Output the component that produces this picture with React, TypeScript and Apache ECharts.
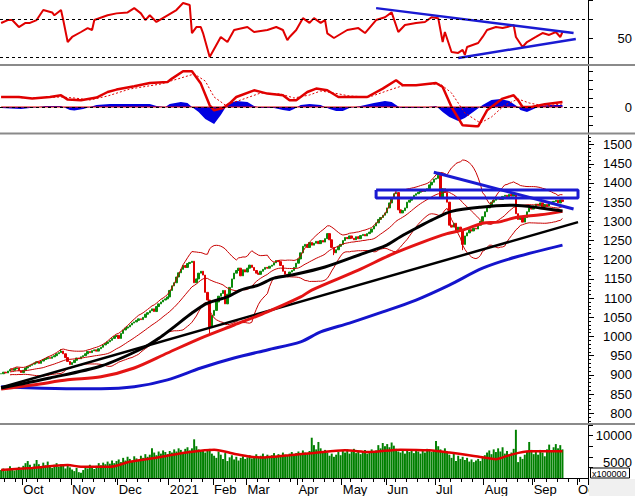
import React, { useEffect, useRef } from 'react';
import * as echarts from 'echarts';

// ---------- calendar ----------
const START_DATE = [2020, 8, 17]; // 17 Sep 2020 (month 0-based)
const TOTAL_SLOTS = 265; // trading days shown on the axis (incl. empty future)
const HOLIDAYS = ['2021-01-01', '2021-02-10', '2021-02-11', '2021-02-12', '2021-02-15', '2021-02-16',
  '2021-04-21', '2021-04-30', '2021-05-03', '2021-09-02', '2021-09-03'];
const MONTH_NAMES = ['Jan', 'Feb', 'Mar', 'Apr', 'May', 'Jun', 'Jul', 'Aug', 'Sep', 'Oct', 'Nov', 'Dec'];

// ---------- daily closes (index level) ----------
const closeSep20 = [903, 907, 905, 910, 914, 912, 916, 918, 911, 906];
const closeOct20 = [912, 918, 922, 925, 928, 931, 934, 930, 936, 940, 942, 945, 943, 947, 950, 955, 958, 962, 955, 945, 935, 927];
const closeNov20 = [932, 938, 944, 942, 947, 950, 955, 961, 958, 963, 965, 962, 968, 972, 978, 982, 986, 990, 995, 1000, 1003];
const closeDec20 = [995, 1008, 1017, 1022, 1025, 1030, 1035, 1038, 1042, 1046, 1044, 1050, 1058, 1062, 1067, 1072, 1065, 1078, 1085, 1090, 1095, 1098, 1103];
const closeJan21 = [1120, 1132, 1140, 1155, 1166, 1175, 1185, 1180, 1190, 1193, 1196, 1140, 1150, 1165, 1170, 1160, 1115, 1095, 1025, 1055];
const closeFeb21 = [1068, 1090, 1105, 1112, 1120, 1085, 1110, 1128, 1150, 1165, 1172, 1178, 1158, 1174, 1168];
const closeMar21 = [1178, 1186, 1180, 1172, 1165, 1162, 1170, 1175, 1180, 1178, 1183, 1186, 1192, 1198, 1195, 1185, 1170, 1162, 1160, 1168, 1172, 1180, 1191];
const closeApr21 = [1202, 1218, 1235, 1240, 1232, 1245, 1238, 1243, 1248, 1242, 1250, 1246, 1255, 1268, 1252, 1232, 1218, 1226, 1235, 1240];
const closeMay21 = [1250, 1258, 1255, 1262, 1256, 1252, 1260, 1255, 1263, 1266, 1262, 1268, 1272, 1280, 1288, 1296, 1305, 1310, 1316, 1322];
const closeJun21 = [1335, 1348, 1360, 1372, 1375, 1330, 1322, 1328, 1335, 1350, 1355, 1362, 1368, 1372, 1376, 1380, 1378, 1382, 1385, 1395, 1402, 1410];
const closeJul21 = [1412, 1420, 1362, 1385, 1375, 1350, 1290, 1285, 1295, 1272, 1285, 1278, 1240, 1262, 1270, 1278, 1275, 1282, 1280, 1290, 1300, 1312];
const closeAug21 = [1325, 1335, 1342, 1350, 1355, 1358, 1362, 1357, 1365, 1368, 1364, 1370, 1366, 1372, 1320, 1305, 1312, 1298, 1310, 1325, 1335, 1332];
const closeSep21 = [1340, 1345, 1342, 1348, 1338, 1344, 1340, 1346, 1350, 1352, 1355, 1348, 1356, 1352];

// notable wick extremes [dayIndex, price]
const wickHighs = [[27, 967], [197, 1428], [232, 1372]];
const wickLows = [[94, 1004], [208, 1225], [150, 1212]];

// ---------- daily volume (x100000) ----------
const volSep20 = [3500, 3800, 3300, 3600, 4200, 3900, 3400, 3700, 4100, 3600];
const volOct20 = [4300, 4800, 5200, 4500, 4000, 4700, 5400, 4600, 4200, 4900, 4400, 5100, 4300, 3900, 4500, 4800, 4100, 4600, 4300, 3800, 4400, 4000];
const volNov20 = [3600, 3300, 3900, 3100, 3000, 3500, 4200, 3800, 4500, 4100, 3700, 4300, 4800, 4400, 4900, 4600, 5100, 4700, 5300, 4800, 5200];
const volDec20 = [5500, 5000, 5800, 5300, 6000, 5600, 5200, 6100, 5700, 5400, 6200, 5800, 6500, 6000, 6400, 7600, 6800, 6300, 7000, 6600, 7200, 6900, 6500];
const volJan21 = [7100, 6800, 7400, 7000, 7600, 7300, 6900, 7500, 7800, 7200, 7600, 9300, 8000, 7400, 7000, 7300, 6800, 7100, 7500, 6600];
const volFeb21 = [6200, 5800, 7000, 6400, 5600, 6700, 5200, 5900, 6300, 5500, 6000, 5300, 5800, 6100, 5600];
const volMar21 = [5900, 6300, 5700, 6100, 6500, 5800, 6200, 6600, 6000, 6400, 5900, 6300, 6700, 6100, 6500, 6000, 6800, 6400, 6200, 6600, 6900, 6300, 6700];
const volApr21 = [7000, 6600, 7200, 6800, 6500, 7100, 9600, 8200, 7400, 8800, 7600, 7000, 7300, 6800, 6200, 6600, 6000, 6400, 6900, 6300];
const volMay21 = [7200, 6800, 7400, 6600, 7000, 7500, 6700, 7100, 6500, 6900, 7300, 6600, 7000, 7400, 6800, 7200, 8200, 7600, 8600, 8000];
const volJun21 = [8400, 7800, 8700, 8100, 7500, 7000, 6800, 7200, 6600, 7100, 6900, 7400, 6700, 7300, 7000, 6600, 7200, 6800, 7500, 7100, 6900, 7300];
const volJul21 = [9000, 8000, 7400, 6900, 7600, 7000, 6400, 5800, 6600, 5200, 6200, 5600, 6000, 5400, 5800, 5100, 5500, 5000, 5300, 5600, 5200, 5900];
const volAug21 = [6300, 6800, 7200, 6500, 7400, 6900, 7600, 7000, 7800, 6600, 7100, 6400, 6800, 7500, 11100, 5000, 6000, 5600, 6400, 6900, 8800, 7300];
const volSep21 = [6500, 7000, 6400, 7300, 6800, 6100, 7400, 8300, 7100, 7800, 8400, 7600, 8200, 7400];

// ---------- moving averages [dayIndex, value] ----------
const ma50Points = [[0, 866], [22, 892], [45, 923], [64, 970], [72, 999], [78, 1025], [86, 1061], [93, 1087], [102, 1103], [108, 1121], [116, 1134], [123, 1152], [131, 1160], [146, 1181], [164, 1218], [173, 1236], [180, 1260], [187, 1282], [194, 1303], [203, 1326], [216, 1337], [231, 1342], [243, 1335], [253, 1327]];
const ma100Points = [[0, 863], [15, 874], [30, 887], [45, 895], [60, 918], [75, 957], [90, 996], [105, 1030], [120, 1064], [135, 1103], [140, 1121], [161, 1173], [176, 1214], [190, 1246], [201, 1268], [209, 1279], [217, 1295], [224, 1298], [232, 1310], [243, 1317], [253, 1326]];
const ma200Points = [[0, 869], [15, 866], [35, 864], [45, 864], [60, 869], [75, 887], [90, 918], [105, 944], [120, 965], [135, 986], [144, 1012], [157, 1035], [172, 1064], [187, 1095], [202, 1134], [217, 1178], [232, 1207], [253, 1238]];
const longTrendPoints = [[0, 867], [260, 1298]];
const topTrendPoints = [[195, 1428], [258, 1332]];
const resistanceBox = [[169, 1382], [260, 1382], [260, 1361], [169, 1361], [169, 1382]];

// ---------- RSI ----------
const rsiPoints = [[0, 65.9], [3, 69], [5, 69], [8, 61.7], [11, 66], [13, 66], [16, 69], [19, 79.5], [23, 77], [24, 74], [27, 79.5], [28, 69], [30, 46], [32, 51.3], [36, 56.5], [39, 60.6], [41, 58.6], [42, 69], [48, 74], [52, 76], [57, 77], [60, 81.5], [63, 76], [65, 69], [67, 74], [70, 67], [75, 74], [79, 79.5], [82, 86.8], [85, 84.7], [86, 55.4], [88, 61.7], [90, 61.7], [91, 55.4], [94, 30.4], [99, 51.3], [102, 46], [105, 58.6], [111, 61.7], [114, 56.5], [120, 58.6], [124, 61.7], [127, 58.6], [129, 48], [130, 51.3], [133, 58.6], [136, 71], [139, 66], [141, 71], [144, 66], [146, 69], [147, 55], [150, 50.2], [156, 58.6], [161, 60.6], [164, 55.4], [169, 69], [173, 72], [176, 77], [179, 56.5], [182, 63.8], [187, 66], [191, 67], [194, 72], [197, 71], [199, 46], [200, 56.5], [203, 35.6], [206, 34.6], [208, 37.8], [209, 32.5], [210, 40.8], [215, 45], [217, 51.3], [219, 58.6], [223, 61.7], [226, 60.6], [228, 61.7], [231, 63.8], [232, 51.3], [235, 40.8], [237, 46], [241, 51.3], [244, 55.4], [247, 53.4], [250, 56.5], [252, 51.3], [253, 56.5]];
const rsiUpperTrend = [[169, 81.5], [258, 55.4]];
const rsiLowerTrend = [[206, 29.3], [259, 49.2]];
const rsiGuides = [70, 30];

// ---------- MACD ----------
const macdPoints = [[0, 10], [8, 10], [14, 8.4], [22, 10], [27, 11.7], [30, 7.4], [36, 6.7], [43, 9.4], [48, 15], [52, 17.4], [60, 20.7], [67, 24], [75, 25], [77, 28.4], [82, 35.7], [86, 35.7], [90, 23.4], [94, 1.7], [96, -3.3], [100, -1], [103, 3.7], [106, 10], [114, 16.7], [120, 13.4], [127, 11.7], [130, 6.7], [133, 6.7], [138, 15], [142, 18.4], [147, 16.7], [152, 10], [161, 10], [165, 10], [172, 18.4], [178, 26.7], [181, 21.7], [187, 21.7], [196, 24], [199, 20], [203, 0], [208, -18.3], [214, -19.3], [215, -19.3], [219, -3.3], [226, 8.4], [231, 11.7], [233, 6.7], [235, 0], [239, 0], [245, 2.7], [253, 5]];
const signalPoints = [[0, 10], [14, 9], [27, 10], [33, 9], [40, 7], [48, 11], [58, 18], [72, 23], [81, 29], [87, 33], [92, 26], [96, 10], [101, 2], [108, 7], [117, 14], [126, 13], [132, 9], [139, 12], [144, 16], [150, 14], [157, 11], [166, 10], [175, 17], [182, 22], [198, 23], [203, 14], [209, -6], [216, -16], [221, -10], [227, 2], [233, 8], [238, 4], [245, 1], [253, 3]];
const histPoints = [[0, -1], [9, -2], [17, 0], [20, 1], [27, 1], [29, -1], [31, -3], [33, -3.5], [37, -2], [40, 0], [43, 2], [49, 3], [58, 3], [67, 3], [70, 1], [74, 0], [76, 3], [81, 5], [84, 4], [86, 0], [89, -5], [92, -12], [96, -17], [99, -8], [101, -1], [103, 4], [106, 6], [111, 5], [114, 1], [117, -1], [123, -1], [127, -3], [130, -4], [132, -2], [135, 2], [139, 3], [144, 2], [148, -2], [151, -4], [154, -4], [157, -1], [162, 1], [168, 4], [173, 6], [176, 5], [180, -1], [189, -1], [196, 1], [199, -5], [202, -10], [206, -14], [209, -11], [214, -3], [217, 2], [221, 7], [225, 8], [229, 6], [233, 0], [234, -3], [237, -5], [240, -2], [243, 1], [247, 2], [253, 2]];
const macdZeroSpan = [[0, 0], [253, 0]];

// ---------- volume average ----------
const volMaPoints = [[0, 3518], [14, 3900], [30, 4450], [36, 4130], [49, 4130], [58, 5060], [72, 5980], [85, 6900], [96, 7350], [106, 6480], [117, 5870], [130, 6300], [141, 6720], [155, 7220], [166, 6900], [180, 7350], [193, 7220], [202, 6800], [216, 5980], [223, 5550], [229, 6300], [238, 7040], [253, 7040]];

// ---------- axis tick labels ----------
const priceTicks = [800, 850, 900, 950, 1000, 1050, 1100, 1150, 1200, 1250, 1300, 1350, 1400, 1450, 1500];
const rsiLabels = [50];
const rsiTicks = [30, 50, 70, 90];
const macdLabels = [0];
const macdTicks = [-18, -9, 0, 9, 18, 27, 36];
const volumeLabels = [5000, 10000];
const volumeTicks = [4000, 6000, 8000, 10000, 12000];
const volumeUnit = 'x100000';

const FONT = 'Liberation Sans, Arial, sans-serif';

function buildDates() {
  const out: string[] = [];
  let t = Date.UTC(START_DATE[0], START_DATE[1], START_DATE[2]);
  while (out.length < TOTAL_SLOTS) {
    const d = new Date(t);
    const dow = d.getUTCDay();
    const s = d.toISOString().slice(0, 10);
    if (dow !== 0 && dow !== 6 && HOLIDAYS.indexOf(s) < 0) out.push(s);
    t += 86400000;
  }
  return out;
}

function buildOption() {
  const dates = buildDates();
  const closes = [...closeSep20, ...closeOct20, ...closeNov20, ...closeDec20, ...closeJan21, ...closeFeb21,
    ...closeMar21, ...closeApr21, ...closeMay21, ...closeJun21, ...closeJul21, ...closeAug21, ...closeSep21];
  const volumes = [...volSep20, ...volOct20, ...volNov20, ...volDec20, ...volJan21, ...volFeb21,
    ...volMar21, ...volApr21, ...volMay21, ...volJun21, ...volJul21, ...volAug21, ...volSep21];

  const hiMap = new Map(wickHighs.map((p) => [p[0], p[1]]));
  const loMap = new Map(wickLows.map((p) => [p[0], p[1]]));
  const candles = closes.map((c, i) => {
    const o = i === 0 ? c : closes[i - 1];
    const lo = Math.min(o, c, loMap.has(i) ? (loMap.get(i) as number) : Infinity);
    const hi = Math.max(o, c, hiMap.has(i) ? (hiMap.get(i) as number) : -Infinity);
    return [o, c, lo, hi];
  });

  // Bollinger bands (20, 2) from closes
  const bbUp: any[] = [], bbMid: any[] = [], bbLo: any[] = [];
  closes.forEach((_, i) => {
    if (i < 4) { bbUp.push('-'); bbMid.push('-'); bbLo.push('-'); return; }
    const w = closes.slice(Math.max(0, i - 19), i + 1);
    const m = w.reduce((a, b) => a + b, 0) / w.length;
    const sd = Math.sqrt(w.reduce((a, b) => a + (b - m) * (b - m), 0) / w.length);
    bbUp.push(+(m + 2 * sd).toFixed(1));
    bbMid.push(+m.toFixed(1));
    bbLo.push(+(m - 2 * sd).toFixed(1));
  });

  const monthStarts = new Set<number>();
  const weekStarts = new Set<number>();
  dates.forEach((d, i) => {
    if (i === 0) return;
    const prev = dates[i - 1];
    if (d.slice(5, 7) !== prev.slice(5, 7)) monthStarts.add(i);
    const a = new Date(d + 'T00:00:00Z').getUTCDay();
    const b = new Date(prev + 'T00:00:00Z').getUTCDay();
    if (a < b) weekStarts.add(i);
  });

  const hiddenX = (g: number) => ({ type: 'category', gridIndex: g, data: dates, boundaryGap: true, show: false });
  const axisBlack = { show: true, lineStyle: { color: '#000', width: 1 } };
  const rightLabel = {
    color: '#000', fontSize: 13, fontFamily: FONT, align: 'right', margin: 44,
    formatter: (v: number) => String(v),
  };

  const line = (data: any, xi: number, yi: number, color: string, width: number, extra: any = {}) => ({
    type: 'line', data, xAxisIndex: xi, yAxisIndex: yi, symbol: 'none', silent: true,
    lineStyle: { color, width, ...(extra.lineStyle || {}) },
    ...Object.fromEntries(Object.entries(extra).filter(([k]) => k !== 'lineStyle')),
  });

  return {
    animation: false,
    backgroundColor: '#fff',
    textStyle: { fontFamily: FONT },
    grid: [
      { left: 0, right: 47, top: 0, height: 64 },
      { left: 0, right: 47, top: 66, height: 67 },
      { left: 0, right: 47, top: 135, height: 289 },
      { left: 0, right: 47, top: 425, height: 53 },
    ],
    xAxis: [
      hiddenX(0), hiddenX(1), hiddenX(2),
      {
        type: 'category', gridIndex: 3, data: dates, boundaryGap: true, position: 'bottom',
        axisLine: axisBlack,
        axisTick: { show: true, length: 7, interval: (i: number) => monthStarts.has(i), lineStyle: { color: '#000' } },
        axisLabel: {
          show: true, interval: (i: number) => monthStarts.has(i), align: 'left', margin: 5,
          color: '#000', fontSize: 13, fontFamily: FONT,
          formatter: (v: string) => {
            const m = parseInt(v.slice(5, 7), 10) - 1;
            return m === 0 ? v.slice(0, 4) : MONTH_NAMES[m];
          },
        },
        splitLine: { show: false },
      },
      {
        type: 'category', gridIndex: 3, data: dates, boundaryGap: true, position: 'bottom',
        axisLine: { show: false },
        axisTick: { show: true, length: 4, interval: (i: number) => weekStarts.has(i) && !monthStarts.has(i), lineStyle: { color: '#000' } },
        axisLabel: { show: false },
        splitLine: { show: false },
      },
    ],
    yAxis: [
      {
        type: 'value', gridIndex: 0, position: 'right', min: 23, max: 90, axisLine: axisBlack,
        axisTick: { show: true, length: 5, customValues: rsiTicks, lineStyle: { color: '#000' } },
        axisLabel: { ...rightLabel, customValues: rsiLabels }, splitLine: { show: false },
      },
      {
        type: 'value', gridIndex: 1, position: 'right', min: -26, max: 41, axisLine: axisBlack,
        axisTick: { show: true, length: 5, customValues: macdTicks, lineStyle: { color: '#000' } },
        axisLabel: { ...rightLabel, customValues: macdLabels }, splitLine: { show: false },
      },
      {
        type: 'value', gridIndex: 2, position: 'right', min: 772, max: 1525, axisLine: axisBlack,
        axisTick: { show: true, length: 6, customValues: priceTicks, lineStyle: { color: '#000' } },
        axisLabel: { ...rightLabel, customValues: priceTicks }, splitLine: { show: false },
      },
      {
        type: 'value', gridIndex: 2, position: 'right', min: 772, max: 1525, axisLine: { show: false },
        axisTick: { show: true, length: 3, customValues: Array.from({ length: 75 }, (_, k) => 780 + k * 10), lineStyle: { color: '#000' } },
        axisLabel: { show: false }, splitLine: { show: false },
      },
      {
        type: 'value', gridIndex: 3, position: 'right', min: 2000, max: 12000, axisLine: axisBlack,
        axisTick: { show: true, length: 5, customValues: volumeTicks, lineStyle: { color: '#000' } },
        axisLabel: { ...rightLabel, customValues: volumeLabels }, splitLine: { show: false },
      },
    ],
    series: [
      // RSI
      line(rsiPoints, 0, 0, '#e00000', 2, {
        markLine: {
          silent: true, symbol: 'none', label: { show: false },
          lineStyle: { color: '#000', type: [3, 3], width: 1 },
          data: rsiGuides.map((v) => ({ yAxis: v })),
        },
      }),
      line(rsiUpperTrend, 0, 0, '#1a1ad2', 2.5),
      line(rsiLowerTrend, 0, 0, '#1a1ad2', 2.5),
      // MACD
      line(histPoints, 1, 1, '#0000e0', 0, { areaStyle: { color: '#0000e0', opacity: 1 }, lineStyle: { width: 0 } }),
      line(macdZeroSpan, 1, 1, '#e00000', 1.2, {
        markLine: {
          silent: true, symbol: 'none', label: { show: false },
          lineStyle: { color: '#000', type: [3, 3], width: 1 },
          data: [{ yAxis: 0 }],
        },
      }),
      line(signalPoints, 1, 1, '#e00000', 1, { lineStyle: { type: [2, 2] } }),
      line(macdPoints, 1, 1, '#e00000', 2.5),
      // main price panel
      line(bbUp, 2, 2, '#c80000', 1),
      line(bbMid, 2, 2, '#c80000', 1),
      line(bbLo, 2, 2, '#c80000', 1),
      line(ma200Points, 2, 2, '#1414cc', 3, { smooth: 0.3 }),
      line(longTrendPoints, 2, 2, '#000', 2.5),
      line(ma100Points, 2, 2, '#e41414', 3, { smooth: 0.3 }),
      line(ma50Points, 2, 2, '#000', 3, { smooth: 0.3 }),
      {
        type: 'candlestick', data: candles, xAxisIndex: 2, yAxisIndex: 2, barWidth: 2, silent: true,
        itemStyle: { color: '#0a8a0a', color0: '#e00000', borderColor: '#0a8a0a', borderColor0: '#e00000', borderWidth: 1 },
      },
      line(topTrendPoints, 2, 2, '#1a1ad2', 3),
      line(resistanceBox, 2, 2, '#1a1ad2', 3),
      // volume
      {
        type: 'bar', data: volumes, xAxisIndex: 3, yAxisIndex: 4, barCategoryGap: '12%', silent: true,
        itemStyle: { color: '#008000' },
      },
      line(volMaPoints, 3, 4, '#e00000', 2.5, { smooth: 0.3 }),
    ],
    graphic: [
      { type: 'rect', z: 100, shape: { x: 0, y: 64, width: 635, height: 2 }, style: { fill: '#8a8a8a' } },
      { type: 'rect', z: 100, shape: { x: 0, y: 132.5, width: 635, height: 2 }, style: { fill: '#8a8a8a' } },
      { type: 'rect', z: 100, shape: { x: 0, y: 423, width: 635, height: 2 }, style: { fill: '#8a8a8a' } },
      { type: 'rect', z: 100, shape: { x: 589, y: 479, width: 46, height: 17 }, style: { fill: '#f0f0f0' } },
      { type: 'rect', z: 101, shape: { x: 590.5, y: 468, width: 39, height: 10 }, style: { fill: '#fff', stroke: '#000', lineWidth: 1 } },
      { type: 'text', z: 102, x: 592, y: 469.5, style: { text: volumeUnit, fontSize: 9, fill: '#000', fontFamily: FONT } },
    ],
  };
}

export default function App() {
  const ref = useRef<HTMLDivElement>(null);
  useEffect(() => {
    if (!ref.current) return;
    const chart = echarts.init(ref.current, null, { renderer: 'svg' });
    chart.setOption(buildOption() as any);
    return () => chart.dispose();
  }, []);
  return (
    <div
      ref={ref}
      style={{ position: 'fixed', left: 0, top: 0, width: 635, height: 496, background: '#fff' }}
    />
  );
}
